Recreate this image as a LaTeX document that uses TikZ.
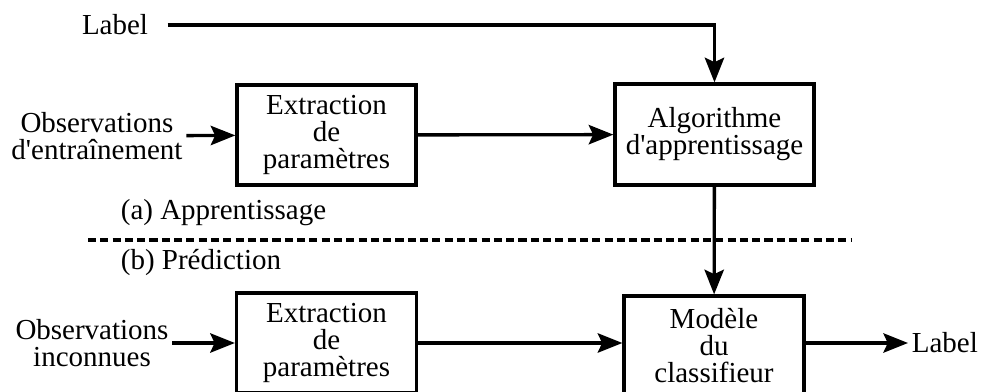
\documentclass[tikz,border=0pt]{standalone}
\usepackage{fontspec}
\setmainfont{Liberation Serif}[Ligatures=TeXOff]
\usetikzlibrary{arrows.meta}

\tikzset{
  block/.style={draw, line width=1.9pt, align=center, inner sep=2pt},
  flow/.style={line width=1.9pt, -{Stealth[length=14pt,width=11pt,inset=2.5pt]}},
  txt/.style={align=center, inner sep=2pt}
}

\begin{document}
\begin{tikzpicture}[x=0.02cm, y=-0.02cm,
    every node/.style={font=\fontsize{16.5}{15.4}\selectfont}]
    \useasboundingbox (0,0) rectangle (991,392);

    % Label on top
    \node[txt] (lbltop) at (115,25) {Label};

    % (a) training part
    \node[txt] (obstrain) at (97,136) {Observations\\d'entraînement};
    \node[block, minimum width=3.58cm, minimum height=2cm] (extrain) at (326.5,135)
        {Extraction\\de\\paramètres};
    \node[block, minimum width=3.98cm, minimum height=2.02cm] (algo) at (714.5,134.5)
        {Algorithme\\d'apprentissage};

    % separation between both phases
    \coordinate (sepL) at (88,240);
    \coordinate (sepR) at (851,240);
    \draw[line width=1.9pt, dash pattern=on 4.6pt off 2.4pt] (sepL) -- (sepR);
    \node[txt, anchor=west] (phasea) at (117,213) {(a) Apprentissage};
    \node[txt, anchor=west] (phaseb) at (117,263) {(b) Prédiction};

    % (b) prediction part
    \node[txt] (obstest) at (92,343) {Observations\\inconnues};
    \node[block, minimum width=3.6cm, minimum height=2cm] (extest) at (326.5,343)
        {Extraction\\de\\paramètres};
    \node[block, minimum width=3.6cm, minimum height=2cm] (model) at (714,346)
        {Modèle\\du\\classifieur};
    \node[txt, anchor=west] (lblout) at (908,343) {Label};

    % connections
    \draw[flow] ([xshift=9pt]lbltop.east) -| (algo.north);
    \draw[flow] (obstrain) -- (extrain);
    \draw[flow] (extrain) -- (algo);
    \draw[flow] (algo) -- (model);
    \draw[flow] (obstest) -- (extest);
    \draw[flow] (extest.east) -- (extest.east -| model.west);
    \draw[flow] (model.east |- lblout.west) -- (lblout.west);

\end{tikzpicture}
\end{document}
